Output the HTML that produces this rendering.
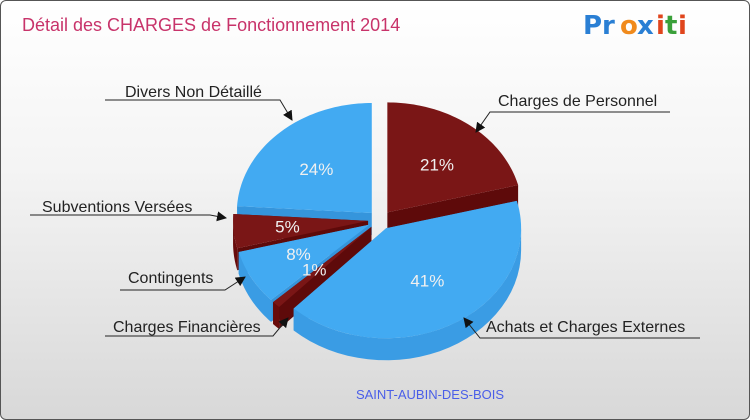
<!DOCTYPE html>
<html><head><meta charset="utf-8"><style>
html,body{margin:0;padding:0}
body{width:750px;height:420px;overflow:hidden;font-family:"Liberation Sans",sans-serif}
#wrap{position:absolute;left:0;top:0;width:748px;height:418px;border:1px solid #555;border-radius:6px;background:linear-gradient(#ffffff 0%,#f4f4f4 40%,#d8d8d8 100%)}
</style></head><body>
<div id="wrap">
<svg id="chart" width="750" height="420" style="position:absolute;left:-1px;top:-1px">
<defs><marker id="arr" markerWidth="10" markerHeight="10" refX="9" refY="5" orient="auto" markerUnits="userSpaceOnUse"><path d="M0,0 L10,5 L0,10 z" fill="#111"/></marker></defs>
<text x="22" y="31" font-size="18" fill="#c8336a">Détail des CHARGES de Fonctionnement 2014</text>
<g font-size="26" font-weight="bold" font-family="'DejaVu Sans',sans-serif">
<text x="583" y="34" fill="#2a7fd4">Pr</text><text x="620" y="34" fill="#f08a1c">o</text><text x="637" y="34" fill="#2a7fd4">x</text><text x="656" y="34" fill="#e0451c">i</text><text x="665" y="34" fill="#3aa03a">t</text><text x="678" y="34" fill="#e0451c">i</text>
</g>
<g id="slices"></g>
<g id="labels"></g>
<text x="430" y="399" font-size="13" fill="#4a5ee8" text-anchor="middle">SAINT-AUBIN-DES-BOIS</text>
</svg>
</div>
<script>
const categories=["Charges de Personnel","Achats et Charges Externes","Charges Financières","Contingents","Subventions Versées","Divers Non Détaillé"];
const values=[21,41,1,8,5,24];
const colorKeys=["red","blue","red","blue","red","blue"];
const NS="http://www.w3.org/2000/svg";
const cx=380,cy=220,rx=135,ry=110,depth=22,expl=12;
const pal={blue:{top:"#42aaf2",side:"#3a9ce4",wall:"#3595dc"},red:{top:"#7a1616",side:"#680b0b",wall:"#5e0a0a"}};
const total=values.reduce((a,b)=>a+b,0);
const g=document.getElementById("slices");
function pt(a,ox,oy,dy){return [cx+ox+rx*Math.cos(a),cy+oy+ry*Math.sin(a)+(dy||0)];}
function mk(tag,attrs){const e=document.createElementNS(NS,tag);for(const k in attrs)e.setAttribute(k,attrs[k]);return e;}
let start=-Math.PI/2;const sl=[];
values.forEach((v,i)=>{const sw=v/total*2*Math.PI;const a0=start,a1=start+sw,mid=(a0+a1)/2;start=a1;
sl.push({i,a0,a1,mid,ox:expl*Math.cos(mid),oy:expl*0.8*Math.sin(mid)});});
const order=sl.slice().sort((a,b)=>Math.sin(a.mid)-Math.sin(b.mid));
order.forEach(s=>{const c=pal[colorKeys[s.i]];const grp=mk("g",{});


const C=[cx+s.ox,cy+s.oy];
[s.a0,s.a1].forEach(a=>{const p=pt(a,s.ox,s.oy);
grp.appendChild(mk("path",{d:`M${C[0]},${C[1]} L${p[0]},${p[1]} L${p[0]},${p[1]+depth} L${C[0]},${C[1]+depth} Z`,fill:c.wall}));});
// outer wall for front part
const lo=Math.max(s.a0,0),hi=Math.min(s.a1,Math.PI);
const segs=[[lo,hi]];
if(s.a1>2*Math.PI)segs.push([2*Math.PI,Math.min(s.a1,3*Math.PI)]);
segs.forEach(([u,w])=>{if(w<=u)return;let d="";const n=30;
for(let k=0;k<=n;k++){const p=pt(u+(w-u)*k/n,s.ox,s.oy);d+=(k?"L":"M")+p[0]+","+p[1];}
for(let k=n;k>=0;k--){const p=pt(u+(w-u)*k/n,s.ox,s.oy,depth);d+="L"+p[0]+","+p[1];}
grp.appendChild(mk("path",{d:d+"Z",fill:c.side}));});
let d=`M${C[0]},${C[1]}`;const n=60;
for(let k=0;k<=n;k++){const p=pt(s.a0+(s.a1-s.a0)*k/n,s.ox,s.oy);d+="L"+p[0]+","+p[1];}
grp.appendChild(mk("path",{d:d+"Z",fill:c.top}));
const lp=[C[0]+rx*0.6*Math.cos(s.mid),C[1]+ry*0.55*Math.sin(s.mid)];
const t=mk("text",{x:lp[0],y:lp[1]+6,"font-size":17,fill:"#f0f0f0","text-anchor":"middle"});


t.textContent=values[s.i]+"%";grp.appendChild(t);
g.appendChild(grp);});
// labels: [text, textX, textY, lineX1, lineY, elbowX, arrowX, arrowY, anchor]
const lab=[
["Charges de Personnel",498,106,670,112,490,476,132],
["Achats et Charges Externes",486,332,700,338,480,464,318],
["Charges Financières",113,332,105,336,273,288,318],
["Contingents",128,283,120,290,225,245,277],
["Subventions Versées",42,212,30,215,210,226,218],
["Divers Non Détaillé",125,97,105,100,280,292,120]];
const L=document.getElementById("labels");
lab.forEach(l=>{const t=mk("text",{x:l[1],y:l[2],"font-size":16,fill:"#222"});


t.textContent=l[0];L.appendChild(t);
const p=mk("path",{d:`M${l[3]},${l[4]} L${l[5]},${l[4]} L${l[6]},${l[7]}`,fill:"none",stroke:"#222","stroke-width":1,"marker-end":"url(#arr)"});


L.appendChild(p);});
</script>
</body></html>
